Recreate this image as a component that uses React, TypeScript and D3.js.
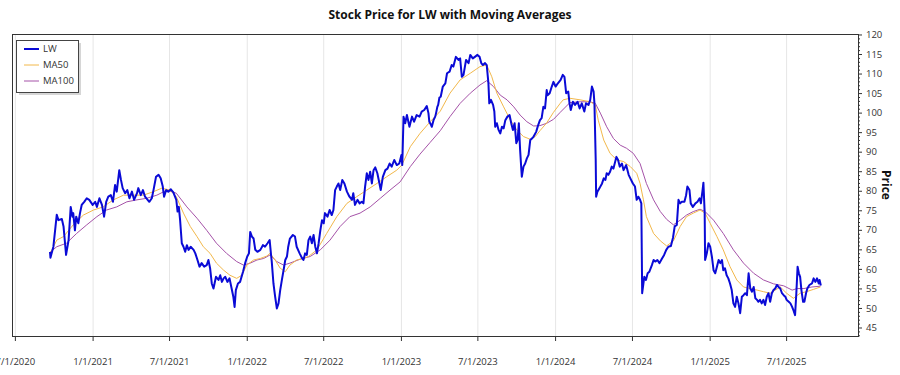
import React from 'react';
import * as d3 from 'd3';

const chartTitle = 'Stock Price for LW with Moving Averages';
const yAxisLabel = 'Price';
const seriesNames = ['LW', 'MA50', 'MA100'];
const seriesColors = ['#0a0ad6', '#f2b84b', '#a552a8'];
const seriesWidths = [2, 1, 1];

const xTickDates = ['2020-07-01', '2021-01-01', '2021-07-01', '2022-01-01', '2022-07-01', '2023-01-01', '2023-07-01', '2024-01-01', '2024-07-01', '2025-01-01', '2025-07-01'];
const xDomainDates = ['2020-06-23', '2025-12-17'];
const yDomain = [42.95, 120.25];
const yMajorTicks = [45, 50, 55, 60, 65, 70, 75, 80, 85, 90, 95, 100, 105, 110, 115, 120];

const lwData: [string, number][] = [
  ['2020-09-21', 64.5], ['2020-09-22', 63.0], ['2020-09-29', 65.8], ['2020-10-07', 74.0], ['2020-10-11', 72.6],
  ['2020-10-19', 72.9], ['2020-10-23', 71.0], ['2020-10-29', 63.7], ['2020-11-04', 67.5], ['2020-11-09', 76.0],
  ['2020-11-13', 73.5], ['2020-11-15', 74.4], ['2020-11-19', 70.0], ['2020-11-22', 73.5], ['2020-11-27', 71.8],
  ['2020-12-01', 74.4], ['2020-12-05', 76.5], ['2020-12-11', 77.3], ['2020-12-17', 78.2], ['2020-12-23', 77.8],
  ['2020-12-31', 76.5], ['2021-01-06', 77.3], ['2021-01-10', 76.0], ['2021-01-16', 78.2], ['2021-01-22', 76.5],
  ['2021-01-27', 73.5], ['2021-02-01', 77.3], ['2021-02-06', 78.6], ['2021-02-12', 79.0], ['2021-02-17', 77.3],
  ['2021-02-22', 81.6], ['2021-02-26', 79.9], ['2021-03-04', 85.4], ['2021-03-08', 82.9], ['2021-03-12', 80.8],
  ['2021-03-18', 79.5], ['2021-03-23', 80.3], ['2021-03-28', 78.2], ['2021-04-03', 79.9], ['2021-04-08', 77.8],
  ['2021-04-15', 79.5], ['2021-04-18', 80.8], ['2021-04-24', 79.0], ['2021-04-29', 80.3], ['2021-05-04', 78.6],
  ['2021-05-14', 77.3], ['2021-05-20', 78.2], ['2021-05-24', 80.3], ['2021-05-30', 83.7], ['2021-06-05', 84.2],
  ['2021-06-10', 83.3], ['2021-06-15', 81.2], ['2021-06-18', 78.6], ['2021-06-23', 80.3], ['2021-06-28', 79.9],
  ['2021-07-04', 80.5], ['2021-07-10', 79.7], ['2021-07-17', 77.8], ['2021-07-20', 74.8], ['2021-07-23', 76.0],
  ['2021-07-26', 72.6], ['2021-07-30', 66.7], ['2021-08-03', 65.8], ['2021-08-07', 64.5], ['2021-08-11', 66.2],
  ['2021-08-15', 65.0], ['2021-08-20', 65.8], ['2021-08-27', 65.0], ['2021-08-31', 64.1], ['2021-09-04', 62.8],
  ['2021-09-10', 60.7], ['2021-09-15', 61.6], ['2021-09-21', 60.7], ['2021-09-27', 61.1], ['2021-10-01', 62.4],
  ['2021-10-05', 60.3], ['2021-10-09', 56.4], ['2021-10-13', 55.1], ['2021-10-19', 58.1], ['2021-10-25', 57.3],
  ['2021-10-29', 58.5], ['2021-11-02', 56.8], ['2021-11-06', 57.7], ['2021-11-10', 58.1], ['2021-11-15', 56.8],
  ['2021-11-20', 57.7], ['2021-11-25', 55.1], ['2021-11-29', 53.0], ['2021-12-02', 50.4], ['2021-12-05', 54.7],
  ['2021-12-10', 56.4], ['2021-12-15', 56.8], ['2021-12-22', 59.4], ['2021-12-27', 61.6], ['2022-01-01', 63.3],
  ['2022-01-05', 64.1], ['2022-01-08', 69.6], ['2022-01-12', 68.4], ['2022-01-16', 67.9], ['2022-01-20', 65.0],
  ['2022-01-25', 64.5], ['2022-02-01', 65.0], ['2022-02-07', 66.2], ['2022-02-12', 65.8], ['2022-02-18', 66.7],
  ['2022-02-23', 67.5], ['2022-02-26', 64.1], ['2022-02-28', 62.0], ['2022-03-04', 56.4], ['2022-03-08', 53.0],
  ['2022-03-12', 50.0], ['2022-03-16', 51.3], ['2022-03-20', 54.7], ['2022-03-24', 57.3], ['2022-03-28', 59.8],
  ['2022-04-01', 62.4], ['2022-04-05', 63.3], ['2022-04-08', 65.8], ['2022-04-12', 67.9], ['2022-04-19', 68.8],
  ['2022-04-24', 68.4], ['2022-04-28', 65.8], ['2022-05-05', 64.1], ['2022-05-10', 63.0], ['2022-05-14', 62.4],
  ['2022-05-18', 64.1], ['2022-05-22', 63.7], ['2022-05-26', 67.5], ['2022-05-30', 68.4], ['2022-06-03', 66.7],
  ['2022-06-07', 68.8], ['2022-06-11', 65.8], ['2022-06-15', 64.1], ['2022-06-19', 66.7], ['2022-06-23', 70.0],
  ['2022-06-27', 72.6], ['2022-07-01', 71.8], ['2022-07-04', 74.4], ['2022-07-10', 73.5], ['2022-07-15', 75.2],
  ['2022-07-20', 73.9], ['2022-07-24', 75.2], ['2022-07-28', 80.3], ['2022-08-01', 81.2], ['2022-08-05', 82.0],
  ['2022-08-09', 80.3], ['2022-08-14', 82.9], ['2022-08-19', 82.0], ['2022-08-25', 79.9], ['2022-08-31', 78.6],
  ['2022-09-06', 77.8], ['2022-09-09', 79.5], ['2022-09-13', 76.5], ['2022-09-19', 77.8], ['2022-09-24', 76.9],
  ['2022-09-29', 77.3], ['2022-10-03', 76.9], ['2022-10-07', 81.2], ['2022-10-11', 84.6], ['2022-10-15', 82.9],
  ['2022-10-19', 85.0], ['2022-10-23', 82.0], ['2022-10-27', 85.4], ['2022-10-31', 86.1], ['2022-11-05', 84.6],
  ['2022-11-10', 82.0], ['2022-11-13', 80.3], ['2022-11-18', 83.7], ['2022-11-24', 85.4], ['2022-11-29', 85.8],
  ['2022-12-04', 87.1], ['2022-12-09', 86.3], ['2022-12-15', 88.0], ['2022-12-21', 86.7], ['2022-12-27', 87.1],
  ['2023-01-01', 89.3], ['2023-01-03', 86.7], ['2023-01-06', 99.1], ['2023-01-10', 97.4], ['2023-01-14', 99.5],
  ['2023-01-20', 96.5], ['2023-01-26', 99.1], ['2023-01-31', 97.8], ['2023-02-06', 99.5], ['2023-02-13', 99.1],
  ['2023-02-18', 100.4], ['2023-02-24', 100.8], ['2023-03-02', 101.8], ['2023-03-06', 100.0], ['2023-03-08', 97.8],
  ['2023-03-12', 97.0], ['2023-03-14', 96.5], ['2023-03-18', 98.2], ['2023-03-22', 99.1], ['2023-03-24', 100.0],
  ['2023-03-27', 101.6], ['2023-03-29', 102.1], ['2023-04-01', 104.0], ['2023-04-04', 104.2], ['2023-04-09', 106.8],
  ['2023-04-15', 107.6], ['2023-04-19', 110.2], ['2023-04-25', 110.6], ['2023-04-30', 112.3], ['2023-05-04', 111.9],
  ['2023-05-10', 114.4], ['2023-05-16', 113.6], ['2023-05-20', 114.0], ['2023-05-24', 109.3], ['2023-05-28', 109.8],
  ['2023-06-03', 113.6], ['2023-06-09', 112.8], ['2023-06-13', 114.9], ['2023-06-19', 114.0], ['2023-06-24', 114.4],
  ['2023-06-30', 114.9], ['2023-07-05', 114.4], ['2023-07-09', 112.8], ['2023-07-13', 112.3], ['2023-07-18', 112.8],
  ['2023-07-22', 112.3], ['2023-07-26', 107.6], ['2023-07-28', 102.5], ['2023-08-01', 103.4], ['2023-08-06', 102.1],
  ['2023-08-09', 100.4], ['2023-08-11', 96.5], ['2023-08-15', 97.4], ['2023-08-19', 95.7], ['2023-08-23', 94.8],
  ['2023-08-27', 96.5], ['2023-08-31', 96.1], ['2023-09-04', 98.2], ['2023-09-09', 99.1], ['2023-09-14', 99.5],
  ['2023-09-18', 97.4], ['2023-09-22', 95.7], ['2023-09-26', 97.4], ['2023-09-30', 92.3], ['2023-10-03', 93.1],
  ['2023-10-06', 97.4], ['2023-10-09', 90.6], ['2023-10-13', 83.7], ['2023-10-17', 86.3], ['2023-10-21', 87.1],
  ['2023-10-25', 88.4], ['2023-10-29', 89.3], ['2023-11-02', 93.1], ['2023-11-06', 93.5], ['2023-11-10', 94.0],
  ['2023-11-16', 95.2], ['2023-11-21', 97.0], ['2023-11-25', 98.2], ['2023-11-29', 98.7], ['2023-12-03', 101.6],
  ['2023-12-07', 101.2], ['2023-12-11', 105.9], ['2023-12-13', 104.6], ['2023-12-18', 105.1], ['2023-12-23', 106.8],
  ['2023-12-27', 108.0], ['2024-01-01', 106.8], ['2024-01-05', 107.4], ['2024-01-13', 108.5], ['2024-01-18', 109.8],
  ['2024-01-22', 109.3], ['2024-01-26', 105.1], ['2024-01-31', 105.5], ['2024-02-03', 102.5], ['2024-02-06', 100.8],
  ['2024-02-11', 102.9], ['2024-02-16', 102.1], ['2024-02-22', 102.9], ['2024-02-27', 101.2], ['2024-03-03', 102.5],
  ['2024-03-09', 100.4], ['2024-03-13', 102.5], ['2024-03-19', 102.1], ['2024-03-23', 103.4], ['2024-03-27', 106.8],
  ['2024-03-31', 105.5], ['2024-04-02', 102.5], ['2024-04-05', 88.0], ['2024-04-06', 78.6], ['2024-04-09', 79.9],
  ['2024-04-14', 80.8], ['2024-04-20', 82.0], ['2024-04-24', 83.3], ['2024-04-28', 82.9], ['2024-05-01', 84.6],
  ['2024-05-05', 84.2], ['2024-05-09', 85.0], ['2024-05-13', 86.3], ['2024-05-17', 85.8], ['2024-05-24', 88.8],
  ['2024-05-28', 88.0], ['2024-06-01', 86.3], ['2024-06-06', 87.1], ['2024-06-10', 85.4], ['2024-06-16', 86.7],
  ['2024-06-22', 84.2], ['2024-06-26', 83.3], ['2024-07-02', 82.0], ['2024-07-07', 81.2], ['2024-07-11', 77.8],
  ['2024-07-15', 78.6], ['2024-07-19', 77.8], ['2024-07-22', 76.9], ['2024-07-24', 53.9], ['2024-07-29', 58.1],
  ['2024-08-02', 57.3], ['2024-08-06', 59.0], ['2024-08-10', 59.4], ['2024-08-16', 61.1], ['2024-08-20', 62.4],
  ['2024-08-24', 62.0], ['2024-08-29', 62.4], ['2024-09-03', 61.6], ['2024-09-09', 62.8], ['2024-09-14', 63.7],
  ['2024-09-19', 65.0], ['2024-09-24', 65.8], ['2024-09-30', 66.0], ['2024-10-05', 68.1], ['2024-10-09', 71.0],
  ['2024-10-14', 71.4], ['2024-10-18', 77.8], ['2024-10-22', 76.9], ['2024-10-26', 77.3], ['2024-11-01', 77.3],
  ['2024-11-05', 79.0], ['2024-11-08', 81.2], ['2024-11-13', 80.3], ['2024-11-16', 76.9], ['2024-11-21', 76.0],
  ['2024-11-27', 76.9], ['2024-12-02', 77.3], ['2024-12-07', 78.2], ['2024-12-10', 76.9], ['2024-12-14', 80.3],
  ['2024-12-16', 82.2], ['2024-12-19', 74.4], ['2024-12-20', 62.4], ['2024-12-24', 64.1], ['2024-12-28', 66.7],
  ['2025-01-01', 65.8], ['2025-01-05', 63.3], ['2025-01-09', 59.8], ['2025-01-13', 59.0], ['2025-01-17', 60.7],
  ['2025-01-21', 62.4], ['2025-01-25', 61.6], ['2025-01-29', 62.4], ['2025-02-01', 59.8], ['2025-02-05', 60.3],
  ['2025-02-09', 58.5], ['2025-02-13', 57.7], ['2025-02-17', 56.4], ['2025-02-21', 54.7], ['2025-02-25', 51.3],
  ['2025-03-01', 50.4], ['2025-03-05', 53.0], ['2025-03-09', 51.3], ['2025-03-13', 48.8], ['2025-03-17', 53.0],
  ['2025-03-21', 53.4], ['2025-03-25', 53.9], ['2025-03-29', 53.4], ['2025-04-02', 59.0], ['2025-04-06', 55.1],
  ['2025-04-10', 54.3], ['2025-04-14', 55.5], ['2025-04-18', 52.6], ['2025-04-22', 52.2], ['2025-04-25', 51.7],
  ['2025-04-29', 52.2], ['2025-05-03', 51.3], ['2025-05-07', 52.2], ['2025-05-11', 50.9], ['2025-05-15', 53.0],
  ['2025-05-19', 53.9], ['2025-05-23', 51.7], ['2025-05-27', 53.9], ['2025-05-31', 54.7], ['2025-06-04', 55.1],
  ['2025-06-08', 56.0], ['2025-06-12', 55.5], ['2025-06-16', 55.1], ['2025-06-20', 53.9], ['2025-06-24', 53.4],
  ['2025-06-28', 53.0], ['2025-07-01', 52.2], ['2025-07-06', 51.7], ['2025-07-10', 51.3], ['2025-07-14', 50.4],
  ['2025-07-17', 49.6], ['2025-07-21', 48.3], ['2025-07-24', 53.9], ['2025-07-27', 60.7], ['2025-07-30', 59.0],
  ['2025-08-02', 58.1], ['2025-08-05', 54.7], ['2025-08-09', 51.7], ['2025-08-12', 51.7], ['2025-08-16', 53.9],
  ['2025-08-19', 55.1], ['2025-08-24', 56.0], ['2025-08-30', 56.4], ['2025-09-03', 57.7], ['2025-09-07', 56.8],
  ['2025-09-11', 57.7], ['2025-09-15', 56.4], ['2025-09-17', 57.3], ['2025-09-20', 55.9],
];

const ma50Data: [string, number][] = [
  ['2020-09-21', 64.0], ['2020-10-07', 67.5], ['2020-10-23', 68.4], ['2020-11-15', 71.4], ['2020-12-09', 73.9],
  ['2021-01-02', 75.2], ['2021-01-25', 76.0], ['2021-02-18', 77.8], ['2021-03-14', 79.0], ['2021-04-06', 79.0],
  ['2021-04-30', 79.0], ['2021-05-24', 79.9], ['2021-06-13', 80.8], ['2021-07-02', 80.3], ['2021-07-17', 78.6],
  ['2021-08-03', 74.4], ['2021-08-19', 71.0], ['2021-09-04', 68.4], ['2021-09-19', 65.8], ['2021-10-05', 64.1],
  ['2021-10-20', 61.6], ['2021-11-06', 59.8], ['2021-11-21', 58.5], ['2021-12-07', 57.7], ['2021-12-19', 58.5],
  ['2021-12-31', 61.1], ['2022-01-16', 62.4], ['2022-02-01', 62.8], ['2022-02-16', 63.4], ['2022-02-24', 64.1],
  ['2022-03-08', 62.4], ['2022-03-20', 60.3], ['2022-04-01', 59.4], ['2022-04-12', 61.1], ['2022-04-28', 62.4],
  ['2022-05-14', 62.8], ['2022-05-26', 63.3], ['2022-06-15', 65.0], ['2022-07-08', 69.2], ['2022-08-01', 73.5],
  ['2022-08-25', 76.9], ['2022-09-17', 78.6], ['2022-10-11', 80.3], ['2022-11-04', 82.0], ['2022-11-27', 83.7],
  ['2022-12-21', 85.4], ['2023-01-02', 86.7], ['2023-01-22', 91.4], ['2023-02-14', 94.8], ['2023-03-10', 97.8],
  ['2023-04-03', 100.5], ['2023-04-26', 105.1], ['2023-05-20', 108.5], ['2023-06-13', 110.2], ['2023-07-06', 111.9],
  ['2023-07-22', 112.3], ['2023-08-03', 109.3], ['2023-08-15', 105.1], ['2023-08-31', 101.6], ['2023-09-16', 98.2],
  ['2023-10-01', 95.7], ['2023-10-17', 94.0], ['2023-11-02', 93.3], ['2023-11-14', 94.0], ['2023-11-25', 95.5],
  ['2023-12-11', 97.5], ['2023-12-27', 100.2], ['2024-01-12', 102.5], ['2024-01-19', 103.4], ['2024-02-04', 103.8],
  ['2024-02-28', 103.4], ['2024-03-23', 102.9], ['2024-04-04', 102.1], ['2024-04-11', 98.2], ['2024-04-24', 93.1],
  ['2024-05-09', 89.7], ['2024-05-25', 88.0], ['2024-06-10', 87.6], ['2024-06-26', 86.3], ['2024-07-11', 84.6],
  ['2024-07-19', 82.0], ['2024-07-27', 77.8], ['2024-08-03', 73.5], ['2024-08-20', 69.2], ['2024-09-05', 67.3],
  ['2024-09-20', 66.0], ['2024-10-06', 67.3], ['2024-10-22', 71.0], ['2024-11-06', 73.5], ['2024-11-22', 74.4],
  ['2024-12-08', 75.2], ['2024-12-20', 74.4], ['2025-01-01', 71.8], ['2025-01-17', 68.4], ['2025-02-01', 65.0],
  ['2025-02-17', 60.7], ['2025-03-05', 57.3], ['2025-03-21', 55.5], ['2025-04-06', 55.1], ['2025-04-22', 54.7],
  ['2025-05-07', 54.3], ['2025-05-23', 53.9], ['2025-06-04', 54.7], ['2025-06-16', 55.5], ['2025-07-01', 53.9],
  ['2025-07-17', 52.6], ['2025-08-02', 53.9], ['2025-08-17', 54.3], ['2025-09-03', 54.9], ['2025-09-19', 55.5],
];

const ma100Data: [string, number][] = [
  ['2020-09-21', 64.4], ['2020-10-07', 65.8], ['2020-10-30', 66.7], ['2020-11-23', 69.2], ['2020-12-17', 71.4],
  ['2021-01-10', 73.5], ['2021-02-02', 75.2], ['2021-02-26', 76.0], ['2021-03-22', 77.3], ['2021-04-15', 77.8],
  ['2021-05-08', 78.2], ['2021-06-01', 79.0], ['2021-06-25', 80.3], ['2021-07-17', 79.5], ['2021-08-11', 76.0],
  ['2021-09-04', 73.1], ['2021-09-27', 70.0], ['2021-10-20', 66.7], ['2021-11-13', 64.1], ['2021-12-07', 62.0],
  ['2021-12-23', 61.1], ['2022-01-08', 61.6], ['2022-01-24', 62.4], ['2022-02-09', 62.8], ['2022-02-24', 63.7],
  ['2022-03-12', 62.0], ['2022-03-28', 61.1], ['2022-04-12', 61.6], ['2022-05-06', 62.6], ['2022-05-30', 63.3],
  ['2022-06-23', 65.0], ['2022-07-16', 67.5], ['2022-08-09', 71.0], ['2022-09-01', 73.5], ['2022-09-25', 74.4],
  ['2022-10-19', 76.0], ['2022-11-12', 78.2], ['2022-12-05', 80.3], ['2022-12-29', 82.4], ['2023-01-22', 86.3],
  ['2023-02-14', 89.5], ['2023-03-10', 92.5], ['2023-04-03', 95.5], ['2023-04-26', 99.1], ['2023-05-20', 102.5],
  ['2023-06-13', 105.1], ['2023-07-06', 107.2], ['2023-07-22', 108.3], ['2023-08-07', 106.8], ['2023-08-23', 104.6],
  ['2023-09-08', 103.4], ['2023-09-24', 101.6], ['2023-10-09', 99.5], ['2023-10-25', 97.8], ['2023-11-10', 96.7],
  ['2023-11-25', 96.8], ['2023-12-11', 97.4], ['2023-12-27', 98.4], ['2024-01-12', 100.2], ['2024-02-04', 102.7],
  ['2024-02-28', 102.9], ['2024-03-23', 102.9], ['2024-04-04', 102.5], ['2024-04-16', 100.0], ['2024-05-01', 96.5],
  ['2024-05-17', 93.5], ['2024-06-02', 91.8], ['2024-06-17', 91.0], ['2024-07-03', 89.7], ['2024-07-19', 87.1],
  ['2024-08-03', 82.0], ['2024-08-20', 77.8], ['2024-09-05', 74.8], ['2024-09-20', 72.8], ['2024-10-06', 71.4],
  ['2024-10-22', 72.6], ['2024-11-06', 73.9], ['2024-11-22', 74.8], ['2024-12-08', 75.4], ['2024-12-20', 74.8],
  ['2025-01-09', 72.6], ['2025-02-01', 69.2], ['2025-02-25', 65.0], ['2025-03-21', 61.6], ['2025-04-14', 59.0],
  ['2025-05-07', 57.3], ['2025-05-31', 56.3], ['2025-06-24', 55.8], ['2025-07-14', 54.7], ['2025-07-26', 55.1],
  ['2025-08-11', 55.1], ['2025-08-30', 55.5], ['2025-09-19', 55.7],
];

const W = 900;
const H = 375;
const M = { left: 12, right: 858, top: 34, bottom: 336 };
const FONT = '"Open Sans", "Noto Sans", sans-serif';

const parse = d3.utcParse('%Y-%m-%d');

export default function App() {
  const x = d3.scaleUtc()
    .domain(xDomainDates.map((d) => parse(d) as Date))
    .range([M.left, M.right]);
  const y = d3.scaleLinear().domain(yDomain).range([M.bottom, M.top]);

  const line = d3.line<[string, number]>()
    .x((d) => x(parse(d[0]) as Date))
    .y((d) => y(d[1]));

  const series = [lwData, ma50Data, ma100Data];
  const fmt = d3.utcFormat('%-m/%-d/%Y');
  const xTicks = xTickDates.map((d) => parse(d) as Date);
  const minorTicks = d3.range(Math.ceil(yDomain[0]), Math.floor(yDomain[1]) + 1).filter((v) => v % 5 !== 0);

  return (
    <svg width={W} height={H} style={{ position: 'absolute', left: 0, top: 0, background: '#fff' }} fontFamily={FONT}>
      <rect x={0} y={0} width={W} height={H} fill="#fff" />
      <text x={450} y={19} textAnchor="middle" fontSize={12} fontWeight="bold" fill="#111">{chartTitle}</text>

      {/* grid */}
      {xTicks.map((d, i) => (
        <line key={'g' + i} x1={x(d)} x2={x(d)} y1={M.top} y2={M.bottom} stroke="#e6e6e6" strokeWidth={1} />
      ))}

      <defs>
        <clipPath id="plotclip">
          <rect x={M.left} y={M.top} width={M.right - M.left} height={M.bottom - M.top} />
        </clipPath>
      </defs>

      <g clipPath="url(#plotclip)">
        {[2, 1, 0].map((i) => (
          <path key={'s' + i} d={line(series[i]) || ''} fill="none" stroke={seriesColors[i]}
            strokeWidth={seriesWidths[i]} strokeLinejoin="round" />
        ))}
      </g>

      {/* frame */}
      <rect x={M.left + 0.5} y={M.top + 0.5} width={M.right - M.left} height={M.bottom - M.top}
        fill="none" stroke="#333" strokeWidth={1} />

      {/* x axis */}
      {xTicks.map((d, i) => (
        <g key={'x' + i} transform={`translate(${x(d)},0)`}>
          <line y1={M.bottom} y2={M.bottom + 5} stroke="#333" />
          <text y={365} textAnchor="middle" fontSize={9.5} fill="#333">{fmt(d)}</text>
        </g>
      ))}

      {/* y axis right */}
      {yMajorTicks.map((v) => (
        <g key={'y' + v} transform={`translate(0,${y(v)})`}>
          <line x1={M.right} x2={M.right + 4} stroke="#333" />
          <text x={M.right + 8} dy="0.33em" fontSize={9.5} fill="#333">{v}</text>
        </g>
      ))}
      {minorTicks.map((v) => (
        <line key={'m' + v} x1={M.right} x2={M.right + 2} y1={y(v)} y2={y(v)} stroke="#333" />
      ))}
      <text transform={`translate(882,${(M.top + M.bottom) / 2}) rotate(90)`} textAnchor="middle"
        fontSize={12} fontWeight="bold" fill="#111">{yAxisLabel}</text>

      {/* legend */}
      <rect x={19} y={43} width={62} height={52} fill="#bbb" opacity={0.6} />
      <rect x={16.5} y={40.5} width={62} height={52} fill="#fff" stroke="#444" strokeWidth={1} />
      {seriesNames.map((n, i) => (
        <g key={'l' + i} transform={`translate(0,${49 + i * 16})`}>
          <line x1={24} x2={39} stroke={seriesColors[i]} strokeWidth={seriesWidths[i]} />
          <text x={43} dy="0.35em" fontSize={9.5} fill="#333">{n}</text>
        </g>
      ))}
    </svg>
  );
}
